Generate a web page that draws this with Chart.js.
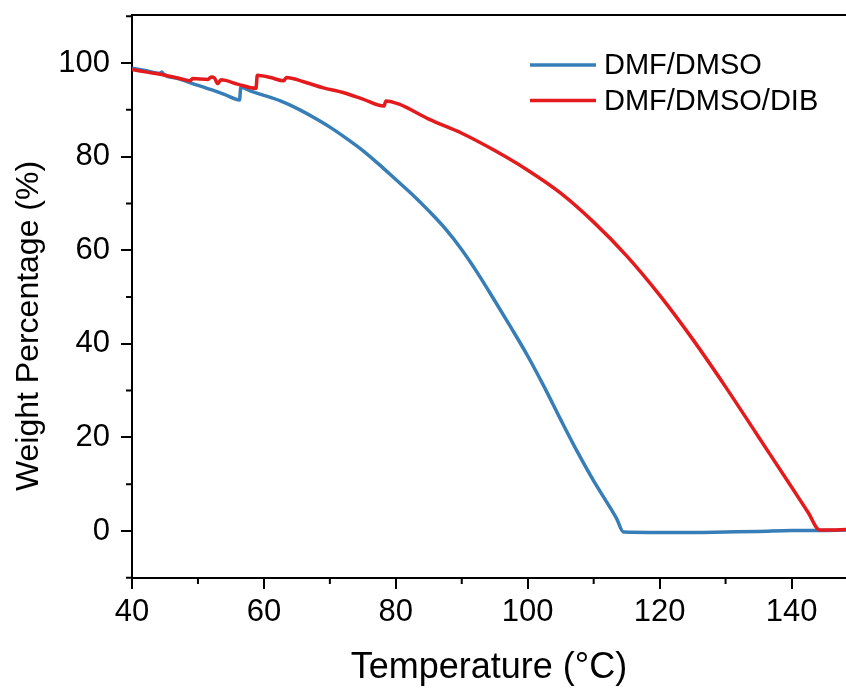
<!DOCTYPE html>
<html>
<head>
<meta charset="utf-8">
<script src="https://cdn.jsdelivr.net/npm/chart.js@4"></script>
<style>
  html, body { margin: 0; padding: 0; background: #fff; }
  #wrap { width: 846px; height: 693px; }
</style>
</head>
<body>
<div id="wrap"><canvas id="chart"></canvas></div>
<script>
const seriesNames = ["DMF/DMSO", "DMF/DMSO/DIB"];

// DMF/DMSO
const tempBlue = [40.0, 42.0, 44.3, 44.5, 44.8, 47.0, 49.0, 52.0, 54.0, 56.3, 56.5, 58.0, 60.0, 62.5, 65.0,
  67.5, 70.0, 72.5, 75.0, 77.5, 80.0, 82.5, 85.0, 87.5, 90.0, 92.5, 95.0, 97.5, 100.0, 102.5, 105.0,
  107.5, 110.0, 112.5, 113.5, 114.5, 120.0, 125.0, 130.0, 135.0, 140.0, 144.0, 148.3];
const weightBlue = [98.9, 98.4, 97.8, 98.1, 97.6, 96.7, 95.7, 94.3, 93.3, 92.1, 94.8, 94.0, 93.1, 91.9, 90.3,
  88.4, 86.3, 83.9, 81.3, 78.3, 75.1, 71.9, 68.4, 64.6, 60.1, 54.9, 49.2, 43.4, 37.4, 30.8, 23.8,
  17.0, 10.7, 5.0, 2.6, -0.2, -0.3, -0.3, -0.2, -0.1, 0.1, 0.1, 0.2];

// DMF/DMSO/DIB
const tempRed = [40.0, 42.5, 45.0, 47.5, 48.8, 49.2, 51.5, 52.0, 52.5, 53.0, 53.5, 56.0, 58.8, 59.0, 61.0,
  63.0, 63.4, 66.0, 69.0, 72.0, 75.0, 78.2, 78.5, 80.5, 85.0, 90.0, 95.0, 100.0, 105.0, 110.0, 115.0,
  120.0, 125.0, 130.0, 135.0, 140.0, 142.5, 144.3, 146.0, 148.3];
const weightRed = [98.6, 98.0, 97.4, 96.6, 96.2, 96.7, 96.5, 97.0, 96.8, 95.6, 96.4, 95.5, 94.6, 97.4, 96.9,
  96.2, 96.9, 96.0, 94.7, 93.7, 92.3, 90.8, 91.9, 91.2, 88.0, 85.0, 81.3, 77.1, 72.2, 66.0, 58.8,
  50.4, 41.0, 30.8, 20.1, 9.4, 4.0, 0.2, 0.2, 0.3];

const xTicks = [40, 60, 80, 100, 120, 140];
const yTicks = [0, 20, 40, 60, 80, 100];
const xTicksMinor = [50, 70, 90, 110, 130];
const yTicksMinor = [-10, 10, 30, 50, 70, 90, 110];

const blue = "#377eb8";
const red = "#e41a1c";
const font = "'Liberation Sans', Arial, sans-serif";

const toPoints = (xs, ys) => xs.map((t, i) => ({ x: t, y: ys[i] }));

// top frame line, minor ticks, y title and the legend inside the plot
const extras = {
  id: "extras",
  afterDraw(chart) {
    const { ctx, chartArea: a, scales: { x, y } } = chart;
    ctx.save();
    ctx.strokeStyle = "#000";
    ctx.lineWidth = 2;
    ctx.beginPath();
    ctx.moveTo(a.left - 1, a.top);
    ctx.lineTo(a.right, a.top);
    xTicksMinor.forEach(v => {
      const px = x.getPixelForValue(v);
      ctx.moveTo(px, a.bottom);
      ctx.lineTo(px, a.bottom + 6);
    });
    yTicksMinor.forEach(v => {
      const py = y.getPixelForValue(v);
      ctx.moveTo(a.left, py);
      ctx.lineTo(a.left - 6, py);
    });
    ctx.stroke();

    ctx.fillStyle = "#000";
    ctx.save();
    ctx.translate(29, 326);
    ctx.rotate(-Math.PI / 2);
    ctx.font = "32px " + font;
    ctx.textAlign = "center";
    ctx.textBaseline = "middle";
    ctx.fillText("Weight Percentage (%)", 0, 0);
    ctx.restore();

    const lx = a.left + 398, ly = a.top + 50;
    ctx.font = "29px " + font;
    ctx.textBaseline = "middle";
    [[blue, seriesNames[0]], [red, seriesNames[1]]].forEach(([c, name], i) => {
      const yy = ly + i * 35.5;
      ctx.strokeStyle = c;
      ctx.lineWidth = 3.5;
      ctx.beginPath();
      ctx.moveTo(lx, yy);
      ctx.lineTo(lx + 66, yy);
      ctx.stroke();
      ctx.fillText(name, lx + 74, yy + 1);
    });
    ctx.restore();
  }
};

new Chart(document.getElementById("chart"), {
  type: "line",
  data: {
    datasets: [{
      label: seriesNames[0],
      data: toPoints(tempBlue, weightBlue),
      borderColor: blue,
      borderWidth: 3.5,
      pointRadius: 0,
      cubicInterpolationMode: "monotone",
      order: 2
    }, {
      label: seriesNames[1],
      data: toPoints(tempRed, weightRed),
      borderColor: red,
      borderWidth: 3.5,
      pointRadius: 0,
      cubicInterpolationMode: "monotone",
      order: 1
    }]
  },
  options: {
    responsive: true,
    maintainAspectRatio: false,
    animation: false,
    layout: { padding: { top: 15, right: 0, left: 0, bottom: 0 } },
    plugins: { legend: { display: false }, tooltip: { enabled: false } },
    scales: {
      x: {
        type: "linear",
        min: 40,
        max: 148.26,
        afterBuildTicks: s => { s.ticks = xTicks.map(v => ({ value: v })); },
        afterFit: s => { s.height = 115; s.paddingLeft = 0; s.paddingRight = 0; },
        border: { display: true, color: "#000", width: 2 },
        grid: { drawOnChartArea: false, drawTicks: true, tickLength: 11, color: "#000", lineWidth: 2 },
        ticks: { padding: 5, color: "#000", font: { family: font, size: 31 } },
        title: { display: true, text: "Temperature (°C)", color: "#000", padding: { bottom: 3 }, font: { family: font, size: 36 } }
      },
      y: {
        min: -10.04,
        max: 110.26,
        afterBuildTicks: s => { s.ticks = yTicks.map(v => ({ value: v })); },
        afterFit: s => { s.width = 132; s.paddingTop = 0; s.paddingBottom = 0; },
        border: { display: true, color: "#000", width: 2 },
        grid: { drawOnChartArea: false, drawTicks: true, tickLength: 11, color: "#000", lineWidth: 2 },
        ticks: { padding: 11, color: "#000", font: { family: font, size: 31 } },
        title: { display: false }
      }
    }
  },
  plugins: [extras]
});
</script>
</body>
</html>
